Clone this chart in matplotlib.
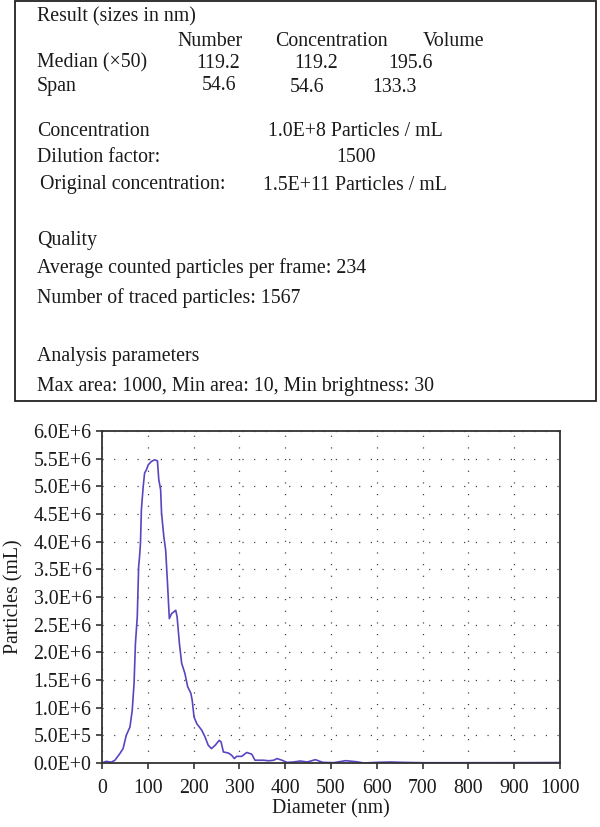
import matplotlib
matplotlib.use("Agg")
import math
import matplotlib.pyplot as plt
from matplotlib.patches import Rectangle
from matplotlib.ticker import FuncFormatter, MultipleLocator

plt.rcParams['font.family'] = ['Liberation Serif', 'DejaVu Serif']
plt.rcParams['lines.scale_dashes'] = False

# ---- data ----
diameter_nm = [0, 9, 20, 28, 39, 46, 53, 61, 66, 70, 73, 77, 80, 82, 84, 86, 90, 93, 97,
               101, 108, 115, 121, 124, 128, 130, 135, 139, 143, 147, 152, 161, 164, 169,
               174, 181, 187, 194, 197, 201, 207, 218, 225, 232, 239, 247, 256, 260, 265,
               276, 283, 289, 294, 305, 316, 327, 334, 342, 353, 364, 375, 382, 393, 404,
               418, 433, 448, 466, 482, 506, 532, 554, 572, 601, 630, 652, 700, 800, 900, 1000]
particles = [0, 30e3, 15e3, 48e3, 170e3, 260e3, 500e3, 650e3, 950e3, 1.44e6, 2.16e6, 2.64e6,
             3.55e6, 3.73e6, 3.97e6, 4.58e6, 5.0e6, 5.24e6, 5.3e6, 5.39e6, 5.45e6, 5.48e6,
             5.46e6, 5.12e6, 4.94e6, 4.52e6, 4.09e6, 3.85e6, 3.25e6, 2.61e6, 2.7e6, 2.76e6,
             2.64e6, 2.16e6, 1.8e6, 1.62e6, 1.38e6, 1.26e6, 1.13e6, 0.83e6, 0.71e6, 0.59e6,
             0.47e6, 0.32e6, 0.26e6, 0.32e6, 0.41e6, 0.38e6, 0.2e6, 0.18e6, 0.14e6, 0.08e6,
             0.12e6, 0.12e6, 0.19e6, 0.16e6, 0.05e6, 0.05e6, 0.05e6, 0.04e6, 0.05e6, 0.08e6,
             0.05e6, 0.01e6, 18e3, 36e3, 18e3, 60e3, 12e3, 6e3, 42e3, 24e3, 0, 12e3, 18e3,
             12e3, 5e3, 5e3, 6e3, 8e3]

x_ticks = list(range(0, 1001, 100))
y_max = 6.0e6

result_header = "Result (sizes in nm)"
col_headers = ["Number", "Concentration", "Volume"]
median_vals = ["119.2", "119.2", "195.6"]
span_vals = ["54.6", "54.6", "133.3"]

W, H = 600, 827
fig = plt.figure(figsize=(W / 100, H / 100), dpi=100)


def fx(px):
    return px / W


def fy(py):
    return 1 - py / H


# ---- info box ----
fig.patches.append(Rectangle((fx(15), fy(401)), fx(596) - fx(15), fy(1) - fy(401),
                             transform=fig.transFigure, fill=False,
                             edgecolor='#222222', linewidth=1.3))

fs = 14.3
tc = '#1a1a1a'


def t(x, y, s, ha='left'):
    fig.text(fx(x), fy(y), s, ha=ha, va='center', fontsize=fs, color=tc)


t(37, 17, result_header)
t(210, 41, col_headers[0], ha='center')
t(331, 41, col_headers[1], ha='center')
t(454, 41, col_headers[2], ha='center')
t(37, 63, "Median (×50)")
t(218, 64, median_vals[0], ha='center')
t(316, 64, median_vals[1], ha='center')
t(411, 64, median_vals[2], ha='center')
t(37, 87, "Span")
t(219, 86, span_vals[0], ha='center')
t(307, 87, span_vals[1], ha='center')
t(394, 87, span_vals[2], ha='center')
t(37, 131, "Concentration")
t(268, 131, "1.0E+8 Particles / mL")
t(37, 158, "Dilution factor:")
t(356, 158, "1500", ha='center')
t(40, 185, "Original concentration:")
t(263, 185, "1.5E+11 Particles / mL")
t(37, 241, "Quality")
t(37, 268, "Average counted particles per frame: 234")
t(37, 298, "Number of traced particles: 1567")
t(37, 357, "Analysis parameters")
t(37, 386, "Max area: 1000, Min area: 10, Min brightness: 30")

# ---- plot ----
ax = fig.add_axes([fx(102), fy(763), fx(560) - fx(102), fy(431) - fy(763)])
ax.plot(diameter_nm, particles, color='#5a44c0', linewidth=1.2)
ax.set_xlim(0, 1000)
ax.set_ylim(0, y_max)
ax.xaxis.set_major_locator(MultipleLocator(100))
ax.yaxis.set_major_locator(MultipleLocator(0.5e6))


def efmt(v, pos):
    if v == 0:
        return "0.0E+0"
    e = int(math.floor(math.log10(abs(v)) + 1e-9))
    m = v / 10 ** e
    return f"{m:.1f}E+{e}"


ax.yaxis.set_major_formatter(FuncFormatter(efmt))
ax.set_xticks(x_ticks)
ax.grid(True, color='#333333', linestyle=(0, (0.8, 7.6)), linewidth=0.9)
for sp in ax.spines.values():
    sp.set_color('#333333')
    sp.set_linewidth(1.3)
ax.tick_params(direction='out', length=4.5, width=1.2, color='#333333',
               labelsize=fs, labelcolor=tc)
ax.tick_params(axis='x', pad=7)
ax.tick_params(axis='y', pad=3)
ax.set_xlabel("Diameter (nm)", fontsize=fs, color=tc, labelpad=1)
ax.set_ylabel("Particles (mL)", fontsize=fs, color=tc, labelpad=7)

fig.savefig("out.png", dpi=100)
